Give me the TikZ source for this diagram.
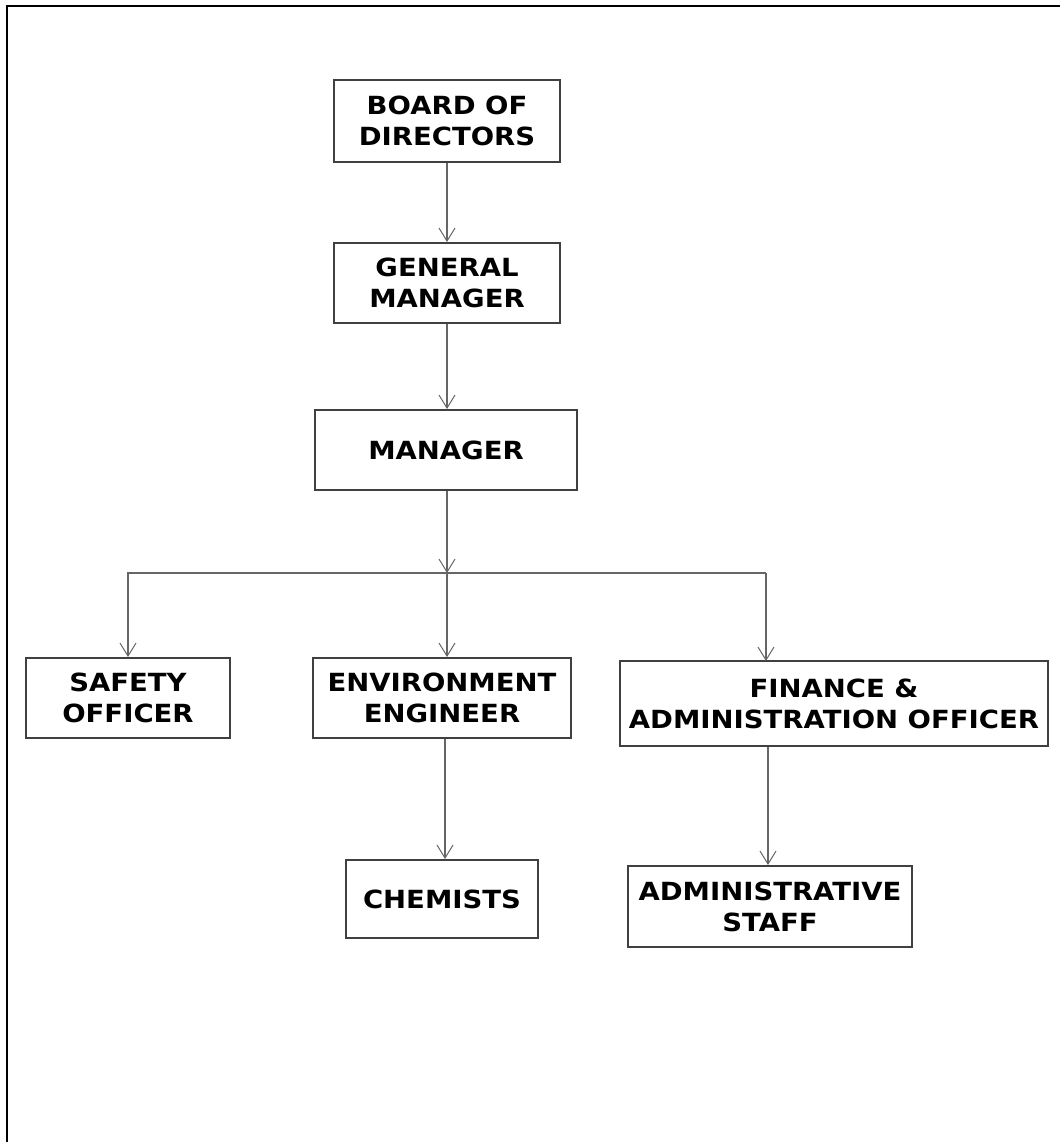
\documentclass[tikz,border=0pt]{standalone}
\usepackage{fontspec}
\setmainfont{DejaVu Sans}[FakeStretch=1.1]
\usetikzlibrary{arrows.meta}
\begin{document}
\begin{tikzpicture}[x=1pt,y=-1pt,
  box/.style={draw=black!75,line width=2pt,align=center,inner sep=0pt,
    font=\bfseries\fontsize{25}{31}\selectfont,text=black},
  arr/.style={draw=black!60,line width=1.1pt,-{Straight Barb[length=13pt,width=16pt,line width=1pt]}},
  lin/.style={draw=black!60,line width=1.1pt}]
\useasboundingbox (0,0) rectangle (1060,1142);
\draw[line width=2.8pt] (7,1142) -- (7,6) -- (1060,6);
\node[box,minimum width=226,minimum height=82] (bod) at (447,121) {BOARD OF\\DIRECTORS};
\node[box,minimum width=226,minimum height=80] (gm) at (447,283) {GENERAL\\MANAGER};
\node[box,minimum width=262,minimum height=80] (mgr) at (446,450) {MANAGER};
\node[box,minimum width=204,minimum height=80] (saf) at (128,698) {SAFETY\\OFFICER};
\node[box,minimum width=258,minimum height=80] (env) at (442,698) {ENVIRONMENT\\ENGINEER};
\node[box,minimum width=428,minimum height=85] (fin) at (834,703.5) {FINANCE \&\\ADMINISTRATION OFFICER};
\node[box,minimum width=192,minimum height=78] (chem) at (442,899) {CHEMISTS};
\node[box,minimum width=284,minimum height=81] (adm) at (770,906.5) {ADMINISTRATIVE\\STAFF};
\coordinate (j) at (447,573);
\coordinate (jf) at (766,573);
\coordinate (ftop) at (766,661);
\draw[arr] (bod.south -| 447,0) -- (gm.north -| 447,0);
\draw[arr] (gm.south -| 447,0) -- (mgr.north -| 447,0);
\draw[arr] (mgr.south -| j) -- (j);
\draw[arr] (j) -| (saf.north);
\draw[arr] (j) -- (env.north -| j);
\draw[lin] (j) -- (jf);
\draw[arr] (jf) -- (ftop);
\draw[arr] (env.south -| 445,0) -- (chem.north -| 445,0);
\draw[arr] (fin.south -| 768,0) -- (adm.north -| 768,0);
\end{tikzpicture}
\end{document}
